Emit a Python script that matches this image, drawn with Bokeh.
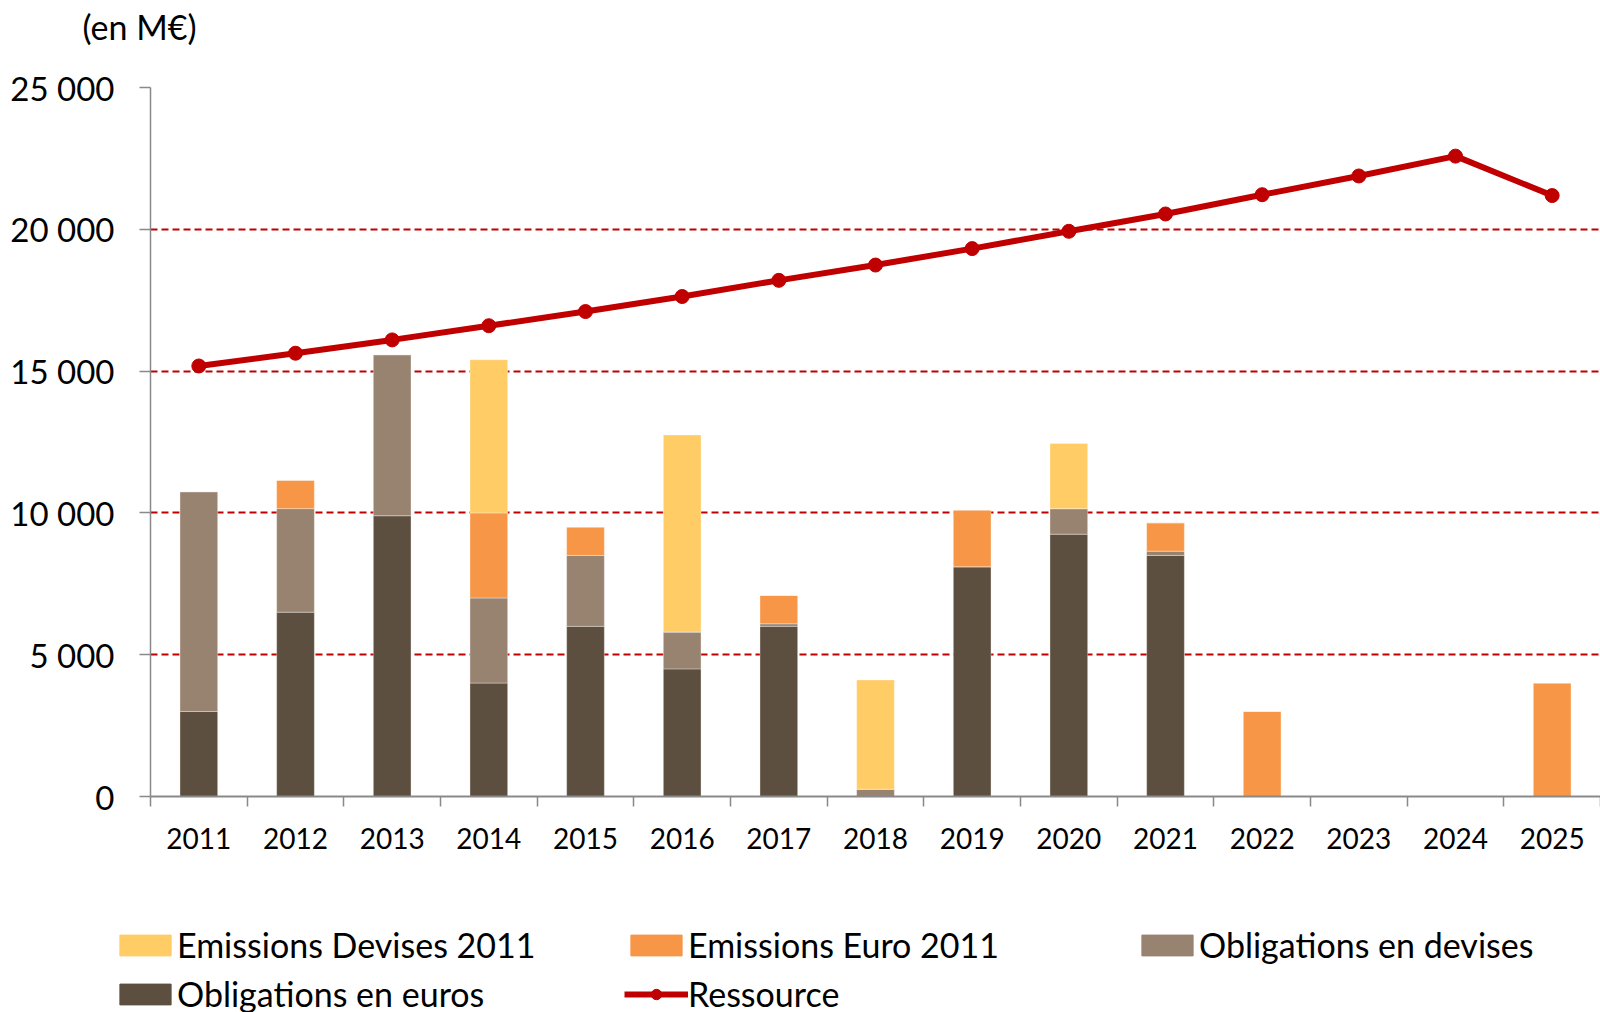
from bokeh.plotting import figure
from bokeh.layouts import column
from bokeh.models import ColumnDataSource, Range1d, FixedTicker, Legend, LegendItem, Label
from bokeh.embed import file_html
from bokeh.resources import INLINE

years = ["2011", "2012", "2013", "2014", "2015", "2016", "2017", "2018",
         "2019", "2020", "2021", "2022", "2023", "2024", "2025"]
obligations_euros = [3000, 6500, 9900, 4000, 6000, 4500, 6000, 0, 8100, 9250, 8500, 0, 0, 0, 0]
obligations_devises = [7750, 3650, 5680, 3000, 2500, 1300, 90, 260, 0, 900, 150, 0, 0, 0, 0]
emissions_euro_2011 = [0, 1000, 0, 3000, 1000, 0, 1000, 0, 2000, 0, 1000, 3000, 0, 0, 4000]
emissions_devises_2011 = [0, 0, 0, 5400, 0, 6950, 0, 3850, 0, 2300, 0, 0, 0, 0, 0]
ressource = [15180, 15630, 16100, 16600, 17100, 17630, 18200, 18740,
             19320, 19930, 20540, 21220, 21880, 22580, 21190]
y_ticks = [0, 5000, 10000, 15000, 20000, 25000]
y_tick_labels = ["0", "5 000", "10 000", "15 000", "20 000", "25 000"]
unit_label = "(en M€)"

FONT = "Lato"
C_DEV11 = "#FFCC66"
C_EUR11 = "#F79646"
C_ODEV = "#988270"
C_OEUR = "#5C4F3F"
C_RES = "#C00000"
GRAY = "#898989"
W = 1600
TOP_H = 50
MAIN_H = 830
LEG_H = 1012 - TOP_H - MAIN_H


def strip(height):
    f = figure(width=W, height=height, output_backend="svg", toolbar_location=None,
               x_axis_location=None, y_axis_location=None,
               x_range=Range1d(0, 1), y_range=Range1d(0, 1), frame_align=False,
               min_border_left=0, min_border_right=0, min_border_top=0, min_border_bottom=0)
    f.grid.visible = False
    f.outline_line_color = None
    f.background_fill_color = "white"
    f.border_fill_color = "white"
    return f


# top strip with the unit
top = strip(TOP_H)
top.add_layout(Label(x=82, y=TOP_H - 25.5, x_units="screen", y_units="screen", text=unit_label,
                     text_font=FONT, text_font_size="34px", text_color="black",
                     text_baseline="middle", text_align="left"))

# main chart
xs = [i + 0.5 for i in range(len(years))]
source = ColumnDataSource(dict(
    x=xs,
    oeur=obligations_euros,
    odev=obligations_devises,
    eur11=emissions_euro_2011,
    dev11=emissions_devises_2011,
))

p = figure(width=W, height=MAIN_H, output_backend="svg", toolbar_location=None,
           x_range=Range1d(0, len(years)), y_range=Range1d(0, 25000), frame_align=False,
           min_border_left=150, min_border_right=0, min_border_top=37, min_border_bottom=84)
p.outline_line_color = None
p.background_fill_color = "white"
p.border_fill_color = "white"

bar_colors = [C_OEUR, C_ODEV, C_EUR11, C_DEV11]
p.vbar_stack(["oeur", "odev", "eur11", "dev11"], x="x", width=0.39,
             color=bar_colors, source=source,
             line_color="white", line_alpha=0.35, line_width=1)

p.line(xs, ressource, line_width=6, line_color=C_RES)
p.scatter(xs, ressource, size=14, fill_color=C_RES, line_color=C_RES)

p.xaxis.ticker = FixedTicker(ticks=xs, minor_ticks=list(range(len(years) + 1)))
p.xaxis.major_label_overrides = {xs[i]: years[i] for i in range(len(years))}
p.xaxis.major_tick_line_color = None
p.xaxis.major_tick_out = 0
p.xaxis.major_tick_in = 0
p.xaxis.minor_tick_in = 0
p.xaxis.minor_tick_out = 10
p.xaxis.minor_tick_line_color = GRAY
p.xaxis.minor_tick_line_width = 1.5
p.xaxis.axis_line_color = GRAY
p.xaxis.axis_line_width = 2
p.xaxis.major_label_text_font = FONT
p.xaxis.major_label_text_font_size = "28px"
p.xaxis.major_label_text_color = "black"
p.xaxis.major_label_standoff = 21

p.yaxis.ticker = FixedTicker(ticks=y_ticks)
p.yaxis.major_label_overrides = {y_ticks[i]: y_tick_labels[i] for i in range(len(y_ticks))}
p.yaxis.major_tick_out = 11
p.yaxis.major_tick_in = 0
p.yaxis.major_tick_line_color = GRAY
p.yaxis.major_tick_line_width = 1.5
p.yaxis.minor_tick_line_color = None
p.yaxis.axis_line_color = GRAY
p.yaxis.axis_line_width = 1.5
p.yaxis.major_label_text_font = FONT
p.yaxis.major_label_text_font_size = "33px"
p.yaxis.major_label_text_color = "black"
p.yaxis.major_label_standoff = 25

p.xgrid.visible = False
p.ygrid.ticker = FixedTicker(ticks=y_ticks[1:])
p.ygrid.grid_line_color = "#C00000"
p.ygrid.grid_line_width = 2
p.ygrid.grid_line_dash = "7 4"

# legend strip
lf = strip(LEG_H)
dummy = ColumnDataSource(dict(x=[0.5], y=[0.5], t=[0.5]))
lr = [lf.vbar(x="x", top="t", width=0.4, color=c, source=dummy, visible=False) for c in bar_colors]
l_line = lf.line(x="x", y="y", line_width=6, line_color=C_RES, source=dummy, visible=False)
l_sc = lf.scatter(x="x", y="y", size=14, fill_color=C_RES, line_color=C_RES, source=dummy, visible=False)

legend = Legend(items=[
    LegendItem(label="Emissions Devises 2011", renderers=[lr[3]]),
    LegendItem(label="Emissions Euro 2011", renderers=[lr[2]]),
    LegendItem(label="Obligations en devises", renderers=[lr[1]]),
    LegendItem(label="Obligations en euros", renderers=[lr[0]]),
    LegendItem(label="Ressource", renderers=[l_line, l_sc]),
], orientation="horizontal", ncols=3, location=(113, -2),
    label_text_font=FONT, label_text_font_size="34px", label_text_color="black",
    glyph_width=64, glyph_height=26, label_standoff=0, spacing=8,
    label_height=40, label_width=439,
    padding=0, margin=0, border_line_color=None, background_fill_alpha=0,
    inactive_fill_alpha=0)
lf.add_layout(legend, "center")

open("out.html", "w").write(file_html(column(top, p, lf), INLINE))
